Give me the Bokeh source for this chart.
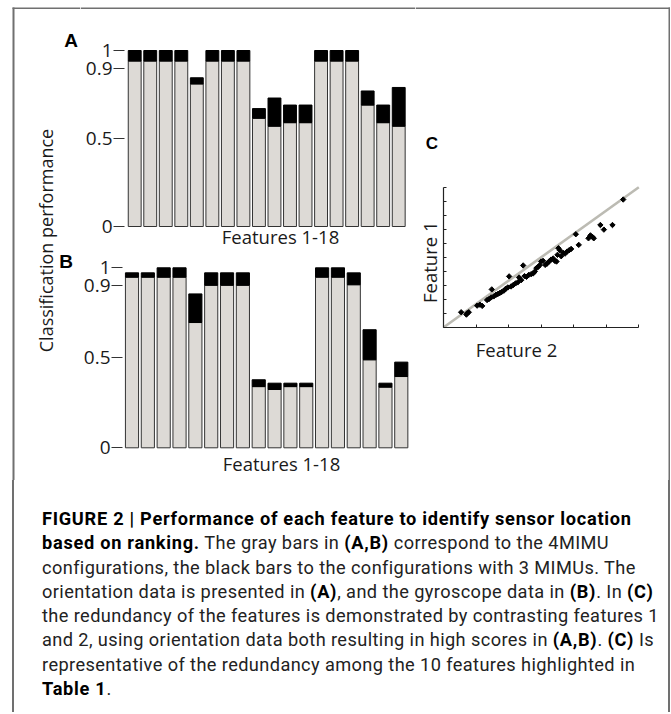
import math
from bokeh.plotting import figure
from bokeh.layouts import column, row
from bokeh.models import Range1d, FixedTicker, Label, Div, LinearAxis
from bokeh.embed import file_html
from bokeh.resources import INLINE

# ---------------- data ----------------
features = list(range(1, 19))
# panel A (orientation data): gray = 4 MIMU, black top = 3 MIMU
a_4mimu = [0.94, 0.94, 0.94, 0.94, 0.81, 0.94, 0.94, 0.94, 0.615,
           0.57, 0.59, 0.59, 0.94, 0.94, 0.94, 0.69, 0.59, 0.57]
a_3mimu = [1.0, 1.0, 1.0, 1.0, 0.845, 1.0, 1.0, 1.0, 0.67,
           0.73, 0.69, 0.69, 1.0, 1.0, 1.0, 0.77, 0.69, 0.79]
# panel B (gyroscope data)
b_4mimu = [0.948, 0.948, 0.948, 0.948, 0.696, 0.903, 0.903, 0.903, 0.34,
           0.324, 0.34, 0.34, 0.948, 0.948, 0.906, 0.489, 0.337, 0.396]
b_3mimu = [0.972, 0.972, 1.0, 1.0, 0.855, 0.972, 0.972, 0.972, 0.378,
           0.359, 0.359, 0.359, 1.0, 1.0, 0.972, 0.656, 0.359, 0.476]
y_ticks = [0, 0.5, 0.9, 1]
y_tick_labels = ["0", "0.5", "0.9", "1"]

# panel C: feature 2 (x) vs feature 1 (y), normalised
feature2 = [0.089, 0.120, 0.128, 0.116, 0.171, 0.185, 0.197, 0.222, 0.232, 0.243,
            0.246, 0.256, 0.268, 0.277, 0.287, 0.296, 0.308, 0.318, 0.328, 0.335,
            0.345, 0.356, 0.368, 0.379, 0.386, 0.397, 0.407, 0.414, 0.424, 0.436,
            0.448, 0.458, 0.467, 0.475, 0.484, 0.492, 0.499, 0.509, 0.520, 0.530,
            0.540, 0.550, 0.561, 0.569, 0.578, 0.583, 0.588, 0.595, 0.602, 0.612,
            0.622, 0.632, 0.643, 0.653, 0.677, 0.692, 0.742, 0.752, 0.762, 0.769,
            0.803, 0.821, 0.865, 0.920]
feature1 = [0.107, 0.100, 0.107, 0.090, 0.154, 0.161, 0.152, 0.194, 0.201, 0.213,
            0.270, 0.220, 0.232, 0.237, 0.244, 0.251, 0.261, 0.275, 0.284, 0.363,
            0.291, 0.301, 0.313, 0.320, 0.355, 0.336, 0.441, 0.365, 0.360, 0.374,
            0.379, 0.384, 0.398, 0.422, 0.431, 0.443, 0.469, 0.474, 0.445, 0.455,
            0.469, 0.483, 0.491, 0.474, 0.469, 0.517, 0.564, 0.550, 0.507, 0.531,
            0.526, 0.540, 0.550, 0.559, 0.664, 0.588, 0.635, 0.656, 0.645, 0.635,
            0.730, 0.697, 0.730, 0.912]
c_diag = [0, 1]
c_xticks = [0, 1/6, 2/6, 3/6, 4/6, 5/6, 1]
c_yticks = [0, 0.1, 0.2, 0.3, 0.4, 0.5, 0.6, 0.7, 0.8, 0.9, 1.0]

FONT = "Open Sans"
TXT = "#1a1a1a"
GRAY = "#dddad6"
BORDER = "#707070"
BORDER_TOP_Y = 7.7     # page px
BORDER_LEFT_X = 13
BORDER_RIGHT_X = 669
LEFT_W = 80            # width of the strip holding the shared label and panel letters
SPLIT_Y = 250          # page y where panel B's canvas starts


class Panel:
    """Maps page pixels to data coordinates for a figure whose frame fills its canvas."""
    def __init__(self, left, top, w, h, px0, d0, ppx, py0, e0, ppy):
        self.left, self.top, self.w, self.h = left, top, w, h
        self.px0, self.d0, self.ppx = px0, d0, ppx
        self.py0, self.e0, self.ppy = py0, e0, ppy

    def fx(self, px):
        return self.d0 + (px - self.px0) / self.ppx

    def fy(self, py):
        return self.e0 + (self.py0 - py) / self.ppy

    def figure(self):
        p = figure(width=self.w, height=self.h,
                   x_range=Range1d(self.fx(self.left), self.fx(self.left + self.w)),
                   y_range=Range1d(self.fy(self.top + self.h), self.fy(self.top)),
                   x_axis_type=None, y_axis_type=None,
                   min_border=0, min_border_left=0, min_border_right=0,
                   min_border_top=0, min_border_bottom=0,
                   outline_line_color=None, background_fill_color="white",
                   border_fill_color="white",
                   output_backend="svg", toolbar_location=None)
        return p

    def label(self, p, px, py, text, size, font=FONT, bold=False, angle=0.0,
              color=TXT):
        p.add_layout(Label(x=self.fx(px), y=self.fy(py), text=text, angle=angle,
                           text_font=font, text_font_size=size,
                           text_font_style="bold" if bold else "normal",
                           text_align="center", text_baseline="middle",
                           text_color=color))

    def hline(self, p, py, px_a, px_b, width=1.5):
        p.segment(x0=[self.fx(px_a)], y0=[self.fy(py)], x1=[self.fx(px_b)],
                  y1=[self.fy(py)], line_color=BORDER, line_width=width)

    def vline(self, p, px, py_a, py_b, width=2):
        p.segment(x0=[self.fx(px)], y0=[self.fy(py_a)], x1=[self.fx(px)],
                  y1=[self.fy(py_b)], line_color=BORDER, line_width=width)


# ---------- shared y label + panel letters ----------
ml = Panel(0, 0, LEFT_W, 480, 0, 0, 1, 480, 0, 1)
pl = ml.figure()
ml.vline(pl, BORDER_LEFT_X, BORDER_TOP_Y - 0.7, 480)
ml.hline(pl, BORDER_TOP_Y, BORDER_LEFT_X - 1, LEFT_W)
ml.label(pl, 45.5, 240, "Classification performance", "18px", angle=math.pi / 2)
ml.label(pl, 70.5, 40, "A", "19px", font="Liberation Sans", bold=True, color="black")
ml.label(pl, 65.5, 261, "B", "19px", font="Liberation Sans", bold=True, color="black")


def bar_panel(m, g4, g3, feat_px, top_border):
    p = m.figure()
    if top_border:
        m.hline(p, BORDER_TOP_Y, m.left, m.left + m.w)
    ax = LinearAxis(fixed_location=m.d0, ticker=FixedTicker(ticks=y_ticks))
    ax.major_label_overrides = dict(zip(y_ticks, y_tick_labels))
    ax.axis_line_color = None
    ax.major_tick_in = 0
    ax.major_tick_out = 11
    ax.major_tick_line_color = "#333333"
    ax.major_tick_line_width = 1
    ax.minor_tick_line_color = None
    ax.major_label_standoff = 1
    ax.major_label_text_font = FONT
    ax.major_label_text_font_size = "19px"
    ax.major_label_text_color = TXT
    p.add_layout(ax, "left")

    p.vbar(x=features, width=0.83, bottom=0, top=g4, fill_color=GRAY,
           line_color="#333333", line_width=1)
    p.vbar(x=features, width=0.83, bottom=g4, top=g3, fill_color="black",
           line_color="black", line_width=1)

    m.label(p, feat_px[0], feat_px[1], "Features 1-18", "18.5px")
    return p


ma = Panel(LEFT_W, 0, 415 - LEFT_W, SPLIT_Y, 124, 0.343, 15.53, 226, 0, 176)
mb = Panel(LEFT_W, SPLIT_Y, 415 - LEFT_W, 480 - SPLIT_Y, 122, 0.40, 15.84, 447.3, 0, 180)
pa = bar_panel(ma, a_4mimu, a_3mimu, (280, 236), True)
pb = bar_panel(mb, b_4mimu, b_3mimu, (281, 462.5), False)

# ---------- panel C ----------
mc = Panel(415, 0, 255, 480, 443.3, 0, 195, 326.7, 0, 140)
pc = mc.figure()
mc.hline(pc, BORDER_TOP_Y, 415, BORDER_RIGHT_X + 1)
mc.vline(pc, BORDER_RIGHT_X, BORDER_TOP_Y - 0.7, 480)
for side, loc, tk in (("below", 0, c_xticks), ("left", 0, c_yticks)):
    ax = LinearAxis(fixed_location=loc, ticker=FixedTicker(ticks=tk), bounds=(0, 1))
    ax.major_label_text_color = None
    ax.major_tick_in = 3
    ax.major_tick_out = 0
    ax.minor_tick_line_color = None
    ax.axis_line_color = "#222222"
    ax.axis_line_width = 1.2
    ax.major_tick_line_color = "#222222"
    pc.add_layout(ax, side)
pc.line(x=c_diag, y=c_diag, line_color="#bcbbb3", line_width=2.6)
pc.scatter(feature2, feature1, size=3.8, marker="square", angle=math.pi / 4,
           fill_color="black", line_color="black")
mc.label(pc, 431.5, 142.5, "C", "17px", font="Liberation Sans", bold=True,
         color="black")
mc.label(pc, 428.5, 261.7, "Feature 1", "18.5px", angle=math.pi / 2)
mc.label(pc, 516, 348.5, "Feature 2", "18.5px")

# ---------- caption ----------
B = '<b style="color:#000; letter-spacing:0.72px">'
caption_html = (
    '<div style="box-sizing:border-box; margin-left:12px; width:658px; height:232px;'
    ' border-left:2px solid ' + BORDER + '; border-right:2px solid ' + BORDER + ';'
    ' padding:27px 0 0 28px; font-family: Roboto, sans-serif; font-size:18.2px;'
    ' letter-spacing:0.4px; line-height:24.3px; color:#222; white-space:nowrap;">'
    + B + 'FIGURE 2 | Performance of each feature to identify sensor location</b><br>'
    + B + 'based on ranking.</b> The gray bars in ' + B + '(A,B)</b> correspond to the 4MIMU<br>'
    'configurations, the black bars to the configurations with 3 MIMUs. The<br>'
    'orientation data is presented in ' + B + '(A)</b>, and the gyroscope data in '
    + B + '(B)</b>. In ' + B + '(C)</b><br>'
    'the redundancy of the features is demonstrated by contrasting features 1<br>'
    'and 2, using orientation data both resulting in high scores in ' + B + '(A,B)</b>. '
    + B + '(C)</b> Is<br>'
    'representative of the redundancy among the 10 features highlighted in<br>'
    + B + 'Table 1</b>.'
    '</div>'
)
cap = Div(text=caption_html, width=670, height=232, margin=(0, 0, 0, 0))

layout = column(row(pl, column(pa, pb), pc), cap)

open("out.html", "w").write(file_html(layout, INLINE))
